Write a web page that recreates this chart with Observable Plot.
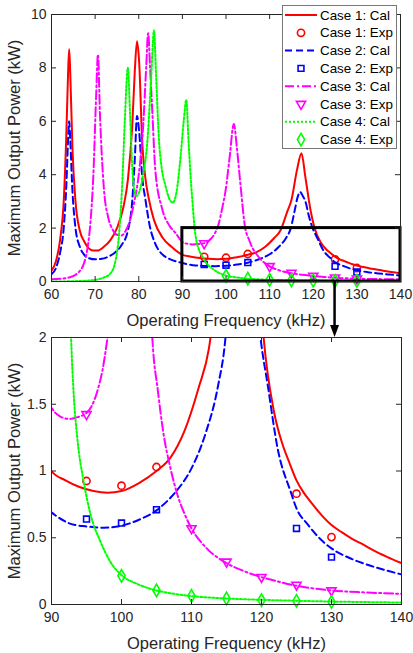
<!DOCTYPE html>
<html><head><meta charset="utf-8">
<script src="https://cdn.jsdelivr.net/npm/d3@7"></script>
<script src="https://cdn.jsdelivr.net/npm/@observablehq/plot@0.6"></script>
<style>
body{margin:0;background:#fff;}
#wrap{position:relative;width:413px;height:653px;font-family:"Liberation Sans",Arial,sans-serif;}
#wrap svg{position:absolute;left:0;}
</style></head><body><div id="wrap"></div>
<script>
// ---- data ----
const freq1 = [60,61,62,62.8,63.4,63.8,64.05,64.3,64.8,65.5,66.5,67.5,68.5,69.5,70.5,72,73.5,75,76.5,77.5,78.5,79.1,79.6,80.1,80.8,81.5,82.3,83.5,85.4,87.5,90,92,94,96,98,100,102.5,105,107,109,111,112.5,114,115,116.3,117.3,118.2,119.4,120.3,121.8,123,124,125,126,127,128,129,130,131.5,133,134.5,136,138,140];
const cal1 = [0.41,0.75,1.6,3.0,5.5,7.8,8.7,7.8,5.0,3.0,1.9,1.5,1.25,1.16,1.16,1.3,1.55,2.0,2.8,3.8,5.8,7.9,9.0,8.2,5.2,3.9,3.1,2.3,1.66,1.3,1.0,0.93,0.88,0.85,0.838,0.85,0.91,1.0,1.1,1.3,1.62,1.92,2.6,3.05,4.2,4.8,3.9,2.65,2.0,1.44,1.2,1.06,0.93,0.84,0.77,0.705,0.645,0.595,0.54,0.49,0.45,0.405,0.355,0.31];
const freq2 = [60,61,62,62.8,63.4,63.8,64.05,64.3,64.8,65.5,66.5,67.5,68.5,70,71.5,73,74.5,76,77.5,78.5,79.1,79.6,80.1,80.8,81.5,82.5,83.8,85.5,87,90,93,95,97.5,100,102.5,105,107,108,110,112,113.8,114.8,115.8,116.4,117.0,117.6,118.2,119,119.9,120.9,122.3,124.2,125,126.6,128.4,130,132.5,135,137.5,140];
const cal2 = [0.27,0.5,1.1,2.0,3.6,5.3,6.0,5.3,3.4,2.0,1.3,1.0,0.88,0.83,0.85,0.93,1.08,1.35,1.9,3.0,4.6,6.2,5.6,3.9,3.1,2.1,1.41,1.0,0.85,0.69,0.6,0.585,0.575,0.59,0.635,0.705,0.8,0.86,1.02,1.28,1.64,1.97,2.7,3.15,3.35,3.2,3.0,2.45,1.98,1.64,1.17,0.84,0.72,0.6,0.49,0.42,0.35,0.3,0.26,0.225];
const freq3 = [60,62,64,65.5,66.5,67.4,68.2,68.9,69.6,70.2,70.65,71.1,72,73,74,75,76,77,78,79,80,81,81.7,82.15,82.6,83.1,83.8,85.4,87,88.5,90,91.2,92.5,93.5,95.1,96.5,97.5,98.3,99.2,99.9,100.8,101.8,102.5,103.3,104.4,105.2,106,107,108,109,110,112,115,117.5,120,122.5,125,127.5,130,135,140];
const cal3 = [0.08,0.1,0.15,0.25,0.4,0.66,1.2,2.16,4.0,6.8,8.5,6.3,3.5,2.4,1.95,1.75,1.72,1.9,2.3,3.0,4.0,5.8,8.0,9.3,8.0,6.4,4.16,2.7,2.1,1.8,1.48,1.41,1.39,1.4,1.44,1.59,1.82,2.15,2.8,3.4,4.6,5.9,5.0,3.66,2.0,1.6,1.28,1.02,0.82,0.68,0.57,0.43,0.31,0.25,0.205,0.17,0.14,0.12,0.105,0.09,0.08];
const freq4 = [60,65,68,70,72,73.5,74.7,75.5,76.2,76.8,77.5,78.0,78.5,79.0,79.5,80.2,81,82,82.8,83.5,84.0,84.6,85.3,86.1,87.0,87.8,88.6,89.6,90.3,90.9,91.4,91.9,92.4,92.8,93.2,93.7,94.6,95.6,97,98.4,100,102.2,105,107.5,110,115,120,125,130,135,140];
const cal4 = [0.0,0.01,0.03,0.06,0.15,0.3,0.8,1.8,3.6,6.0,8.0,6.3,4.3,3.4,3.2,3.4,4.0,5.3,7.5,9.4,7.6,5.4,4.2,3.6,3.1,2.95,3.3,4.7,6.0,6.8,5.3,3.9,2.8,2.0,1.55,1.24,0.92,0.67,0.47,0.32,0.22,0.155,0.105,0.08,0.063,0.045,0.035,0.028,0.022,0.018,0.015];

const expFreq1 = [95,100,105,125,130];
const exp1 = [0.925,0.89,1.03,0.83,0.505];
const expFreq2 = [95,100,105,125,130];
const exp2 = [0.64,0.61,0.71,0.57,0.355];
const expFreq3 = [95,110,115,120,125,130];
const exp3 = [1.425,0.57,0.32,0.205,0.147,0.105];
const expFreq4 = [100,105,110,115,120,125,130];
const exp4 = [0.215,0.105,0.065,0.045,0.033,0.027,0.02];

const seriesNames = ["Case 1","Case 2","Case 3","Case 4"];
const topXTicks = [60,70,80,90,100,110,120,130,140];
const topYTicks = [0,2,4,6,8,10];
const botXTicks = [90,100,110,120,130,140];
const botYTicks = [0,0.5,1,1.5,2];
const zoomBox = [{x1:90,x2:140,y1:0,y2:2}];
const arrowFreq = 125;
const xLabel = "Operating Frequency (kHz)";
const yLabel = "Maximum Output Power (kW)";

// ---- build ----
const W = 413, ink = "#262626";
const FONT = "'Liberation Sans', Arial, sans-serif";
const pairs = (fs, ps) => fs.map((f,i) => ({f, p: ps[i]}));
const cases = [
  {name:seriesNames[0], color:"#ff0000", dash:"none",   symbol:"circle",   rot:0,   r:3.6, calF:freq1, cal:cal1, expF:expFreq1, exp:exp1},
  {name:seriesNames[1], color:"#0000ff", dash:"7,4",    symbol:"square",   rot:0,   r:3.3, calF:freq2, cal:cal2, expF:expFreq2, exp:exp2},
  {name:seriesNames[2], color:"#ff00ff", dash:"9,3,2,3",symbol:"triangle", rot:180, r:3.4, calF:freq3, cal:cal3, expF:expFreq3, exp:exp3},
  {name:seriesNames[3], color:"#00ff00", dash:"2,2",    symbol:"diamond",  rot:0,   r:3.8, calF:freq4, cal:cal4, expF:expFreq4, exp:exp4}
];
const fmt = d => String(d);

function makePanel({xDomain, yDomain, xTicks, yTicks, height, marginTop, marginBottom, marginRight, extras}) {
  const marginLeft = 51;
  const fh = height - marginTop - marginBottom;
  const fw = W - marginLeft - marginRight;
  const marks = [];
  for (const c of cases) {
    marks.push(Plot.line(pairs(c.calF, c.cal), {x:"f", y:"p", stroke:c.color, strokeWidth:2, strokeDasharray:c.dash, curve:"monotone-x", clip:true}));
    marks.push(Plot.dot(pairs(c.expF, c.exp), {x:"f", y:"p", stroke:c.color, strokeWidth:1.6, symbol:c.symbol, r:c.r, rotate:c.rot, fill:"none"}));
  }
  marks.push(...extras);
  marks.push(Plot.frame({stroke:ink}));
  marks.push(Plot.tickX(xTicks, {x:d=>d, stroke:ink, insetTop: fh-5}));
  marks.push(Plot.tickX(xTicks, {x:d=>d, stroke:ink, insetBottom: fh-5}));
  marks.push(Plot.tickY(yTicks, {y:d=>d, stroke:ink, insetRight: fw-5}));
  marks.push(Plot.tickY(yTicks, {y:d=>d, stroke:ink, insetLeft: fw-5}));
  marks.push(Plot.axisX({ticks:xTicks, tickFormat:fmt, tickSize:0, tickPadding:8, fontSize:14, fill:ink, label:xLabel, labelAnchor:"center", labelOffset:44, labelArrow:"none"}));
  marks.push(Plot.axisY({ticks:yTicks, tickFormat:fmt, tickSize:0, tickPadding:5, fontSize:14, fill:ink, label:yLabel, labelAnchor:"center", labelOffset:43, labelArrow:"none"}));
  const svg = Plot.plot({
    width:W, height, marginLeft, marginRight, marginTop, marginBottom,
    style:{background:"transparent", overflow:"visible"},
    x:{domain:xDomain}, y:{domain:yDomain},
    marks
  });
  d3.select(svg).attr("font-family", FONT).style("font-family", FONT);
  d3.select(svg).selectAll("text").style("font-size","14px").style("font-family", FONT).attr("fill", ink);
  d3.select(svg).selectAll('[aria-label$="axis label"] text').style("font-size","16.5px");
  return svg;
}

const wrap = document.getElementById("wrap");
const topH = 330;
const topPlot = makePanel({xDomain:[60,140], yDomain:[0,10], xTicks:topXTicks, yTicks:topYTicks, height:topH, marginTop:14, marginBottom:49, marginRight:13,
  extras:[Plot.rect(zoomBox, {x1:"x1", x2:"x2", y1:"y1", y2:"y2", stroke:"black", strokeWidth:3, fill:"none"})]});
const botPlot = makePanel({xDomain:[90,140], yDomain:[0,2], xTicks:botXTicks, yTicks:botYTicks, height:653-topH, marginTop:7, marginBottom:49, marginRight:12, extras:[]});
topPlot.style.top = "0px";
botPlot.style.top = topH + "px";
wrap.appendChild(topPlot);
wrap.appendChild(botPlot);

// overlay: arrow + legend
const ov = d3.select(wrap).append("svg").attr("width", W).attr("height", 653).style("top","0px").style("pointer-events","none");
const ax = topPlot.scale("x").apply(arrowFreq);
const ay0 = topPlot.scale("y").apply(zoomBox[0].y1);
const ay1 = topH + botPlot.scale("y").apply(zoomBox[0].y2);
ov.append("line").attr("x1",ax).attr("x2",ax).attr("y1",ay0).attr("y2",ay1-10).attr("stroke","black").attr("stroke-width",2.5);
ov.append("path").attr("d",`M${ax-4.5},${ay1-12}L${ax+4.5},${ay1-12}L${ax},${ay1}Z`).attr("fill","black");

const lg = ov.append("g").style("font-family",FONT).style("font-size","13.4px");
lg.append("rect").attr("x",282.5).attr("y",5.5).attr("width",114).attr("height",143).attr("fill","white").attr("stroke","#777").attr("stroke-width",1);
const symMap = {circle:d3.symbolCircle, square:d3.symbolSquare, triangle:d3.symbolTriangle, diamond:d3.symbolDiamond};
cases.forEach((c, i) => {
  const yc = 15 + (2*i)*17.8, ye = 15 + (2*i+1)*17.8;
  lg.append("line").attr("x1",285).attr("x2",317).attr("y1",yc).attr("y2",yc).attr("stroke",c.color).attr("stroke-width",2).attr("stroke-dasharray",c.dash);
  lg.append("text").attr("x",320).attr("y",yc).attr("dy","0.35em").attr("fill","black").text(c.name + ": Cal");
  lg.append("path").attr("d", d3.symbol(symMap[c.symbol], Math.PI*c.r*c.r)()).attr("transform",`translate(301,${ye}) rotate(${c.rot})`).attr("fill","none").attr("stroke",c.color).attr("stroke-width",1.6);
  lg.append("text").attr("x",320).attr("y",ye).attr("dy","0.35em").attr("fill","black").text(c.name + ": Exp");
});
</script></body></html>
